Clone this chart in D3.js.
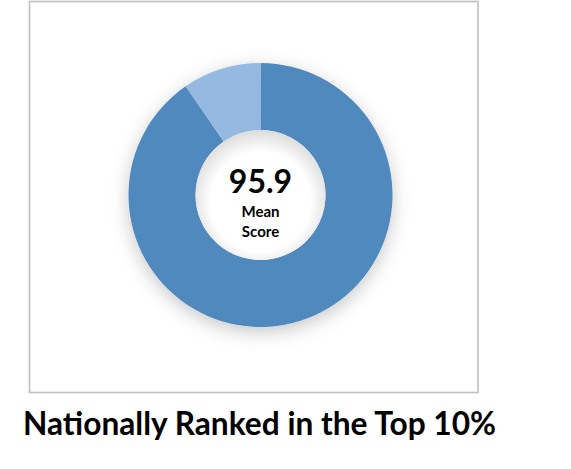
<!DOCTYPE html>
<html>
<head>
<meta charset="utf-8">
<script src="https://cdn.jsdelivr.net/npm/d3@7"></script>
<style>
  body { margin: 0; background: #ffffff; }
  svg { display: block; }
</style>
</head>
<body>
<div id="chart"><svg></svg></div>
<script>
// data
var segments = ["Score", "Rest"];
var segmentValues = [90.4, 9.6];
var segmentColors = ["#4f89bd", "#96b9e1"];
var centerValue = "95.9";
var centerLabel = ["Mean", "Score"];
var titleText = "Nationally Ranked in the Top 10%";

var width = 571, height = 469;
var cx = 260.5, cy = 195;
var outerR = 132, innerR = 65;

var svg = d3.select("#chart svg").attr("width", width).attr("height", height);
var defs = svg.append("defs");

// soft glow under the ring
var shadow = defs.append("filter").attr("id", "ringShadow")
    .attr("x", "-30%").attr("y", "-30%").attr("width", "160%").attr("height", "160%");
shadow.append("feDropShadow")
    .attr("dx", 0).attr("dy", 5)
    .attr("stdDeviation", 9)
    .attr("flood-color", "#000000")
    .attr("flood-opacity", 0.22);

// hole looks slightly sunken
var holeGrad = defs.append("radialGradient").attr("id", "holeGrad")
    .attr("cx", "50%").attr("cy", "55%").attr("r", "55%");
holeGrad.append("stop").attr("offset", "0%").attr("stop-color", "#ffffff");
holeGrad.append("stop").attr("offset", "70%").attr("stop-color", "#ffffff");
holeGrad.append("stop").attr("offset", "100%").attr("stop-color", "#dcdcdc");

// frame
svg.append("rect")
    .attr("x", 29.5).attr("y", 1.5)
    .attr("width", 448.5).attr("height", 391)
    .attr("fill", "#ffffff")
    .attr("stroke", "#bfbfbf")
    .attr("stroke-width", 1.6);

var pie = d3.pie().sort(null).value(function(d) { return d; });
var arc = d3.arc().innerRadius(innerR).outerRadius(outerR);

var g = svg.append("g").attr("transform", "translate(" + cx + "," + cy + ")");

var ring = g.append("g").attr("filter", "url(#ringShadow)");
ring.selectAll("path")
    .data(pie(segmentValues))
    .enter().append("path")
      .attr("class", function(d, i) { return "slice " + segments[i]; })
      .attr("d", arc)
      .attr("fill", function(d, i) { return segmentColors[i]; });

g.append("circle")
    .attr("r", innerR)
    .attr("fill", "url(#holeGrad)");

g.append("text")
    .attr("x", 0).attr("y", -2)
    .attr("text-anchor", "middle")
    .style("font-family", "Lato, 'Open Sans', sans-serif")
    .style("font-weight", "bold")
    .style("font-size", "32px")
    .attr("fill", "#000000")
    .text(centerValue);

g.selectAll(".sub")
    .data(centerLabel)
    .enter().append("text")
      .attr("class", "sub")
      .attr("x", 0)
      .attr("y", function(d, i) { return 22 + i * 20; })
      .attr("text-anchor", "middle")
      .style("font-family", "Lato, 'Open Sans', sans-serif")
      .style("font-weight", "bold")
      .style("font-size", "15px")
      .attr("fill", "#000000")
      .text(function(d) { return d; });

svg.append("text")
    .attr("x", 259.5).attr("y", 435)
    .attr("text-anchor", "middle")
    .attr("textLength", 473)
    .attr("lengthAdjust", "spacingAndGlyphs")
    .style("font-family", "Lato, 'Open Sans', sans-serif")
    .style("font-weight", "bold")
    .style("font-size", "32px")
    .attr("fill", "#000000")
    .text(titleText);
</script>
</body>
</html>
